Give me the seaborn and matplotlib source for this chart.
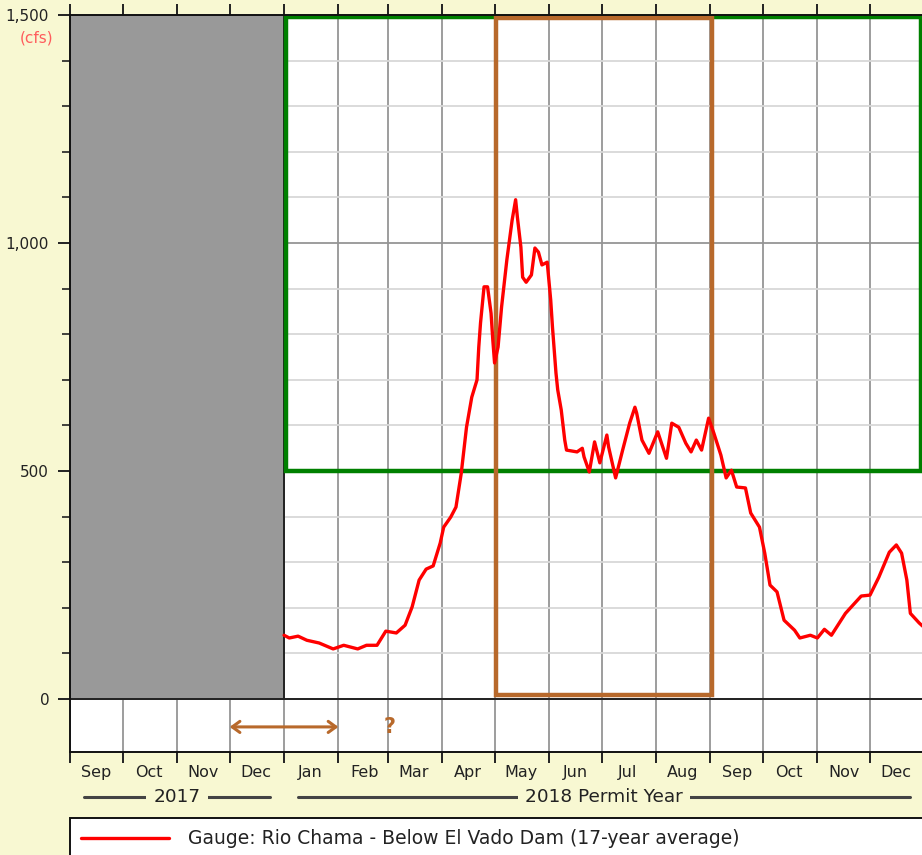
import pandas as pd
import numpy as np
import matplotlib
matplotlib.use("Agg")
import matplotlib.pyplot as plt
import matplotlib.dates as mdates
from matplotlib.patches import Rectangle
from matplotlib.ticker import FixedLocator, FuncFormatter
import seaborn as sns

# ---- data (17-year average flow, cfs) ----
flow_dates = [
    "2018-01-01", "2018-01-04", "2018-01-09", "2018-01-14", "2018-01-21", "2018-01-29",
    "2018-02-04", "2018-02-12", "2018-02-17", "2018-02-23", "2018-02-28",
    "2018-03-06", "2018-03-11", "2018-03-15", "2018-03-19", "2018-03-23", "2018-03-27", "2018-03-31",
    "2018-04-02", "2018-04-06", "2018-04-09", "2018-04-12", "2018-04-15", "2018-04-18",
    "2018-04-21", "2018-04-22", "2018-04-23", "2018-04-25", "2018-04-27", "2018-04-29", "2018-04-30",
    "2018-05-01", "2018-05-03", "2018-05-05", "2018-05-08", "2018-05-11", "2018-05-13",
    "2018-05-14", "2018-05-16", "2018-05-17", "2018-05-19", "2018-05-22", "2018-05-24",
    "2018-05-26", "2018-05-28", "2018-05-31",
    "2018-06-02", "2018-06-03", "2018-06-05", "2018-06-06", "2018-06-08", "2018-06-10",
    "2018-06-11", "2018-06-17", "2018-06-20", "2018-06-21", "2018-06-24", "2018-06-27", "2018-06-30",
    "2018-07-04", "2018-07-05", "2018-07-09", "2018-07-13", "2018-07-17", "2018-07-20",
    "2018-07-21", "2018-07-24", "2018-07-28",
    "2018-08-02", "2018-08-07", "2018-08-10", "2018-08-14", "2018-08-18", "2018-08-21",
    "2018-08-24", "2018-08-27", "2018-08-31",
    "2018-09-03", "2018-09-07", "2018-09-10", "2018-09-13", "2018-09-16", "2018-09-21",
    "2018-09-24", "2018-09-29",
    "2018-10-02", "2018-10-05", "2018-10-09", "2018-10-13", "2018-10-19", "2018-10-22", "2018-10-28",
    "2018-11-01", "2018-11-05", "2018-11-09", "2018-11-17", "2018-11-26",
    "2018-12-01", "2018-12-06", "2018-12-12", "2018-12-16", "2018-12-19", "2018-12-22",
    "2018-12-24", "2018-12-29", "2018-12-31",
]
flow_cfs = [
    140, 134, 138, 129, 123, 110,
    118, 110, 118, 118, 149,
    145, 162, 202, 261, 285, 292, 342,
    377, 399, 421, 495, 596, 662,
    700, 772, 825, 904, 904, 846, 787,
    737, 772, 860, 963, 1050, 1095,
    1057, 991, 925, 914, 930, 989,
    980, 952, 958,
    875, 816, 715, 678, 634, 568,
    546, 542, 550, 531, 498, 564, 518,
    579, 553, 485, 546, 605, 640,
    627, 568, 539,
    586, 528, 605, 596, 561, 542,
    568, 546, 616,
    583, 535, 485, 502, 465, 463,
    408, 377,
    320, 250, 235, 173, 151, 134, 140,
    134, 153, 140, 188, 226,
    228, 267, 322, 338, 320, 261,
    188, 167, 160,
]
series_label = "Gauge: Rio Chama - Below El Vado Dam (17-year average)"

year_groups = ["2017", "2018 Permit Year"]
year_spans = [("2017-09-01", "2018-01-01"), ("2018-01-01", "2019-01-01")]

# highlighted ranges
past_span = ("2017-09-01", "2018-01-01")
green_box = ("2018-01-02", "2018-12-30", 500, 1495)
brown_box = ("2018-05-02", "2018-09-02", 10, 1493)
arrow_span = ("2017-12-01", "2018-02-01")
arrow_y = -61
question_x = "2018-03-02"

BG = "#f8f8d2"
BROWN = "#b8692b"
GREEN = "#008000"

df = pd.DataFrame({"date": pd.to_datetime(flow_dates), "cfs": flow_cfs})

sns.set_style("white")
plt.rcParams["font.family"] = ["DejaVu Sans"]

fig = plt.figure(figsize=(9.22, 8.55), dpi=100, facecolor=BG)
ax = fig.add_axes([70 / 922, 103 / 855, 854.4 / 922, 737 / 855])
ax.set_facecolor("white")

x0, x1 = pd.Timestamp("2017-09-01"), pd.Timestamp("2019-01-01")
ax.set_xlim(x0, x1)
ax.set_ylim(-116, 1500)

# grid
ax.xaxis.set_major_locator(mdates.MonthLocator())
ax.xaxis.set_minor_locator(mdates.MonthLocator(bymonthday=16))
ax.xaxis.set_major_formatter(plt.NullFormatter())
ax.xaxis.set_minor_formatter(mdates.DateFormatter("%b"))
ax.yaxis.set_major_locator(FixedLocator([0, 500, 1000, 1500]))
ax.yaxis.set_minor_locator(FixedLocator([v for v in range(100, 1500, 100) if v % 500]))
ax.yaxis.set_major_formatter(FuncFormatter(lambda v, p: f"{int(v):,}"))

ax.set_axisbelow(True)
ax.grid(axis="x", which="major", color="#959595", lw=1.3, zorder=0.5)
ax.grid(axis="y", which="major", color="#959595", lw=1.3, zorder=0.5)
ax.grid(axis="y", which="minor", color="#d8d8d8", lw=1.3, zorder=0.4)

ax.tick_params(axis="x", which="major", direction="out", length=8, width=1.4,
               top=True, bottom=True, color="#222222")
ax.tick_params(axis="x", which="minor", length=0, pad=9, labelsize=11.5, labelcolor="#222222")
ax.tick_params(axis="y", which="major", direction="out", length=9, width=1.4,
               pad=6, labelsize=11, labelcolor="#222222", left=True, color="#222222")
ax.tick_params(axis="y", which="minor", direction="out", length=6, width=1.2,
               left=True, color="#222222")

for s in ["left", "bottom", "top"]:
    ax.spines[s].set_color("#111111")
    ax.spines[s].set_linewidth(1.4)
ax.spines["right"].set_visible(False)

# past (grey) region
p0, p1 = mdates.date2num(pd.Timestamp(past_span[0])), mdates.date2num(pd.Timestamp(past_span[1]))
ax.add_patch(Rectangle((p0, 0), p1 - p0, 1500, facecolor="#999999", edgecolor="none", zorder=1))
ax.plot([p1, p1], [0, 1500], color="#222222", lw=1.4, zorder=1.1)
ax.axhline(0, color="#222222", lw=1.4, zorder=1.1)

# green and brown boxes
g0, g1 = mdates.date2num(pd.Timestamp(green_box[0])), mdates.date2num(pd.Timestamp(green_box[1]))
ax.add_patch(Rectangle((g0, green_box[2]), g1 - g0, green_box[3] - green_box[2],
                       fill=False, edgecolor=GREEN, lw=3.2, zorder=2, clip_on=False))
b0, b1 = mdates.date2num(pd.Timestamp(brown_box[0])), mdates.date2num(pd.Timestamp(brown_box[1]))
ax.add_patch(Rectangle((b0, brown_box[2]), b1 - b0, brown_box[3] - brown_box[2],
                       fill=False, edgecolor=BROWN, lw=3.2, zorder=2.1, clip_on=False))

# flow line
sns.lineplot(data=df, x="date", y="cfs", color="red", lw=2.4, ax=ax,
             label=series_label, zorder=3)
ax.set_xlabel("")
ax.set_ylabel("")

# arrow and question mark
ax.annotate("", xy=(pd.Timestamp(arrow_span[0]), arrow_y),
            xytext=(pd.Timestamp(arrow_span[1]), arrow_y),
            arrowprops=dict(arrowstyle="<->,head_length=0.55,head_width=0.4",
                        color=BROWN, lw=2.2, shrinkA=0, shrinkB=0), zorder=3)
ax.text(pd.Timestamp(question_x), arrow_y, "?", color=BROWN, fontsize=15,
        fontweight="bold", ha="center", va="center", zorder=3)

# units label
ax.annotate("(cfs)", xy=(0, 1500), xycoords=("axes fraction", "data"),
            xytext=(-12, -16.5), textcoords="offset points", ha="right", va="center",
            fontsize=11, color="#ff5c5c", annotation_clip=False)

# year group row
trans = ax.get_xaxis_transform()
for name, (s, e) in zip(year_groups, year_spans):
    s, e = pd.Timestamp(s), pd.Timestamp(e)
    pad = pd.Timedelta(days=8)
    ax.plot([s + pad, e - pad], [-0.061, -0.061], transform=trans, clip_on=False,
            color="#444444", lw=2.2)
    ax.text(s + (e - s) / 2, -0.061, name, transform=trans, ha="center", va="center",
            fontsize=13.3, color="#222222",
            bbox=dict(facecolor=BG, edgecolor="none", pad=5))

# legend box spanning the width
ax.legend(loc="upper left", bbox_to_anchor=(0, -0.0896 - 0.05, 1.02, 0.05), mode="expand",
          frameon=True, fancybox=False, edgecolor="#111111", facecolor="white",
          framealpha=1, fontsize=13.5, handlelength=4.7, handletextpad=1.0,
          borderaxespad=0, borderpad=0.6)
leg = ax.get_legend()
leg.get_frame().set_linewidth(1.4)
for t in leg.get_texts():
    t.set_color("#222222")

fig.savefig("out.png", dpi=100, facecolor=BG)
